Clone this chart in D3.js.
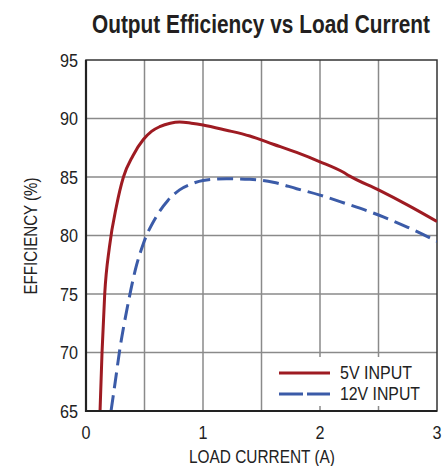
<!DOCTYPE html>
<html><head><meta charset="utf-8">
<script src="https://cdn.jsdelivr.net/npm/d3@7"></script>
<style>body{margin:0;background:#fff}svg{display:block}</style>
</head><body>
<script>
const title = "Output Efficiency vs Load Current";
const xTicks = [0, 1, 2, 3];
const yTicks = [65, 70, 75, 80, 85, 90, 95];
const seriesNames = ["5V INPUT", "12V INPUT"];
const loadCurrent5V = [0.12,0.137,0.16,0.20,0.26,0.32,0.40,0.49,0.56,0.63,0.72,0.80,0.90,1.0,1.2,1.4,1.6,1.8,2.0,2.2,2.25,2.5,2.75,3.0];
const efficiency5V  = [65,70,75,79,82.5,85,86.8,88.2,88.9,89.3,89.6,89.7,89.6,89.45,89.0,88.5,87.8,87.1,86.3,85.4,85.1,83.9,82.6,81.2];
const loadCurrent12V = [0.214,0.25,0.285,0.36,0.42,0.49,0.60,0.70,0.80,0.90,1.0,1.2,1.4,1.6,1.8,2.0,2.2,2.5,2.75,3.0];
const efficiency12V  = [65,67.5,70,74.2,77,79.3,81.6,83.0,83.9,84.4,84.7,84.85,84.8,84.55,84.0,83.45,82.8,81.75,80.7,79.5];

const W = 448, H = 466;
const m = {left: 86, right: 437, top: 60, bottom: 411};
const font = "'Liberation Sans',Arial,sans-serif";
const red = "#9e1b22", blue = "#3b5ba8";

const svg = d3.select("body").append("svg").attr("width", W).attr("height", H);
const x = d3.scaleLinear().domain([0, 3]).range([m.left, m.right]);
const y = d3.scaleLinear().domain([65, 95]).range([m.bottom, m.top]);

// grid
const g = svg.append("g");
g.selectAll(".vx").data(d3.range(0.5, 3, 0.5)).join("line")
  .attr("x1", d => x(d)).attr("x2", d => x(d)).attr("y1", m.top).attr("y2", m.bottom)
  .attr("stroke", "#8a8a8a").attr("stroke-width", 1.5);
g.selectAll(".hy").data(yTicks.slice(1, -1)).join("line")
  .attr("y1", d => y(d)).attr("y2", d => y(d)).attr("x1", m.left).attr("x2", m.right)
  .attr("stroke", "#8a8a8a").attr("stroke-width", 1.5);

// legend background
svg.append("rect").attr("x", x(1.5) + 1.5).attr("y", 357).attr("width", m.right - x(1.5) - 2.5).attr("height", 49).attr("fill", "#fff");

// frame
svg.append("rect").attr("x", m.left).attr("y", m.top).attr("width", m.right - m.left).attr("height", m.bottom - m.top)
  .attr("fill", "none").attr("stroke", "#333").attr("stroke-width", 1.5);
svg.append("line").attr("x1", m.left).attr("x2", m.left).attr("y1", m.top).attr("y2", m.bottom + 1).attr("stroke", "#222").attr("stroke-width", 2.2);
svg.append("line").attr("x1", m.left - 1).attr("x2", m.right).attr("y1", m.bottom).attr("y2", m.bottom).attr("stroke", "#222").attr("stroke-width", 2.2);

// clip
svg.append("clipPath").attr("id", "clip").append("rect")
  .attr("x", m.left).attr("y", m.top).attr("width", m.right - m.left).attr("height", m.bottom - m.top - 1);

const line = d3.line().x(d => x(d[0])).y(d => y(d[1])).curve(d3.curveMonotoneX);
const d5 = loadCurrent5V.map((v, i) => [v, efficiency5V[i]]);
const d12 = loadCurrent12V.map((v, i) => [v, efficiency12V[i]]);
const lines = svg.append("g").attr("clip-path", "url(#clip)");
lines.append("path").attr("d", line(d12)).attr("fill", "none").attr("stroke", blue).attr("stroke-width", 3)
  .attr("stroke-dasharray", "16,7");
lines.append("path").attr("d", line(d5)).attr("fill", "none").attr("stroke", red).attr("stroke-width", 3);

// axes labels
svg.append("g").selectAll("text").data(yTicks).join("text")
  .attr("x", 78).attr("y", d => y(d)).attr("dy", "0.36em").attr("text-anchor", "end")
  .attr("font-family", font).attr("font-size", 18.5).attr("fill", "#222")
  .attr("textLength", 18).attr("lengthAdjust", "spacingAndGlyphs").text(d => d);
svg.append("g").selectAll("text").data(xTicks).join("text")
  .attr("x", d => x(d)).attr("y", 432).attr("dy", "0.36em").attr("text-anchor", "middle")
  .attr("font-family", font).attr("font-size", 18.5).attr("fill", "#222")
  .attr("textLength", 9).attr("lengthAdjust", "spacingAndGlyphs").text(d => d);

svg.append("text").attr("x", 262).attr("y", 463).attr("text-anchor", "middle")
  .attr("font-family", font).attr("font-size", 17.5).attr("fill", "#222")
  .attr("textLength", 146).attr("lengthAdjust", "spacingAndGlyphs").text("LOAD CURRENT (A)");
svg.append("text").attr("transform", "translate(37,236) rotate(-90)").attr("text-anchor", "middle")
  .attr("font-family", font).attr("font-size", 17.5).attr("fill", "#222")
  .attr("textLength", 117).attr("lengthAdjust", "spacingAndGlyphs").text("EFFICIENCY (%)");

svg.append("text").attr("transform", "translate(261,33) scale(1,1.24)").attr("text-anchor", "middle")
  .attr("font-family", font).attr("font-weight", "bold").attr("font-size", 21).attr("fill", "#231f20")
  .attr("textLength", 338).attr("lengthAdjust", "spacingAndGlyphs").text(title);

// legend
const leg = svg.append("g");
const colors = [red, blue], dashes = [null, "24,4"], legLen = [72, 80];
seriesNames.forEach((name, i) => {
  const ly = 373 + i * 21;
  leg.append("line").attr("x1", 279).attr("x2", 330).attr("y1", ly).attr("y2", ly)
    .attr("stroke", colors[i]).attr("stroke-width", 3).attr("stroke-dasharray", dashes[i]);
  leg.append("text").attr("x", 340).attr("y", ly).attr("dy", "0.36em")
    .attr("font-family", font).attr("font-size", 17.5).attr("fill", "#222")
    .attr("textLength", legLen[i]).attr("lengthAdjust", "spacingAndGlyphs").text(name);
});
</script>
</body></html>
